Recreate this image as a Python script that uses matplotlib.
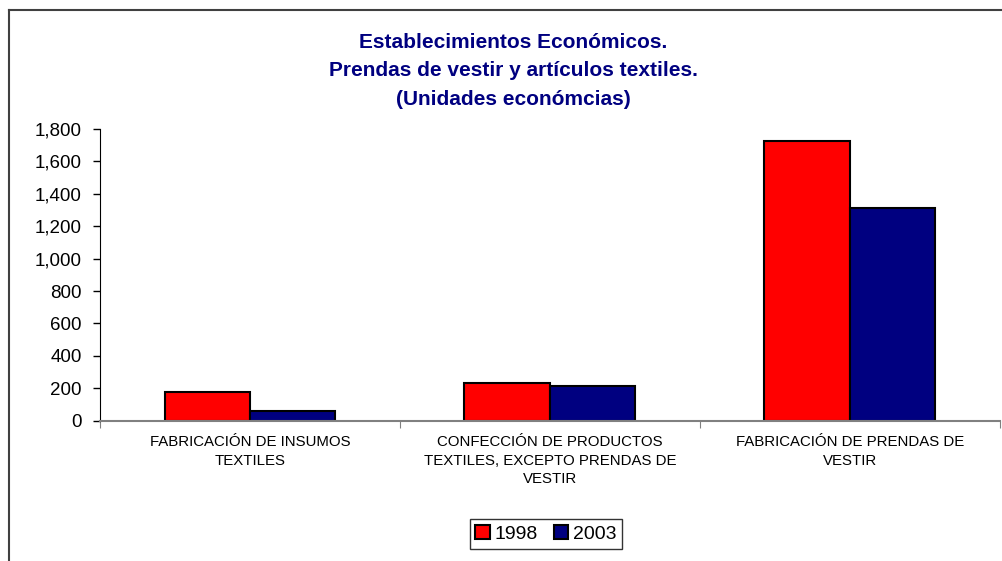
import matplotlib.pyplot as plt
import numpy as np
from matplotlib.lines import Line2D
from matplotlib.ticker import FuncFormatter

plt.rcParams['font.family'] = ['Liberation Sans', 'DejaVu Sans']

# Datos
categorias = ["FABRICACIÓN DE INSUMOS\nTEXTILES",
              "CONFECCIÓN DE PRODUCTOS\nTEXTILES, EXCEPTO PRENDAS DE\nVESTIR",
              "FABRICACIÓN DE PRENDAS DE\nVESTIR"]
anios = ["1998", "2003"]
valores_1998 = [175, 235, 1725]
valores_2003 = [62, 216, 1313]

fig = plt.figure(figsize=(10.03, 5.61), dpi=100)
ax = fig.add_axes([100/1003, 1 - 420.7/561, 900/1003, (420.7 - 129)/561])

x = np.arange(len(categorias))
ancho = 0.285
ax.bar(x - ancho/2, valores_1998, ancho, color='#FF0000', edgecolor='black', linewidth=1.5, label=anios[0])
ax.bar(x + ancho/2, valores_2003, ancho, color='#000080', edgecolor='black', linewidth=1.5, label=anios[1])

ax.set_xlim(-0.5, len(categorias) - 0.5)
ax.set_ylim(0, 1800)
ax.set_yticks(range(0, 1801, 200))
ax.yaxis.set_major_formatter(FuncFormatter(lambda v, p: f"{int(v):,}"))
ax.tick_params(axis='y', labelsize=13.5, length=5, width=1, direction='out', pad=8)

# ticks del eje x en los limites de categoria, etiquetas centradas
ax.set_xticks(np.arange(len(categorias) + 1) - 0.5)
ax.set_xticklabels([])
ax.set_xticks(x, minor=True)
ax.set_xticklabels(categorias, minor=True, fontsize=10.8, linespacing=1.45)
ax.tick_params(axis='x', which='major', length=5, color='#808080')
ax.tick_params(axis='x', which='minor', length=0, pad=10)

ax.spines['top'].set_visible(False)
ax.spines['right'].set_visible(False)
ax.spines['bottom'].set_color('#808080')
ax.spines['bottom'].set_linewidth(1.5)

fig.text(513/1003, 1 - 71/561,
         "Establecimientos Económicos.\nPrendas de vestir y artículos textiles.\n(Unidades económcias)",
         ha='center', va='center', fontsize=15, fontweight='bold', color='#000080', linespacing=1.65)

leg = fig.legend(loc='center', bbox_to_anchor=(546/1003, 1 - 534/561), ncol=2, fontsize=14,
                 frameon=True, fancybox=False, edgecolor='black', handlelength=0.75, handleheight=0.75,
                 handletextpad=0.25, columnspacing=0.8, borderpad=0.3, borderaxespad=0)
leg.get_frame().set_linewidth(1)

# marco del area del grafico
fig.add_artist(Line2D([9/1003, 9/1003], [0, 1 - 10/561], color='#404040', linewidth=1.5))
fig.add_artist(Line2D([9/1003, 1], [1 - 10/561, 1 - 10/561], color='#404040', linewidth=1.5))

plt.savefig('out.png', dpi=100)
